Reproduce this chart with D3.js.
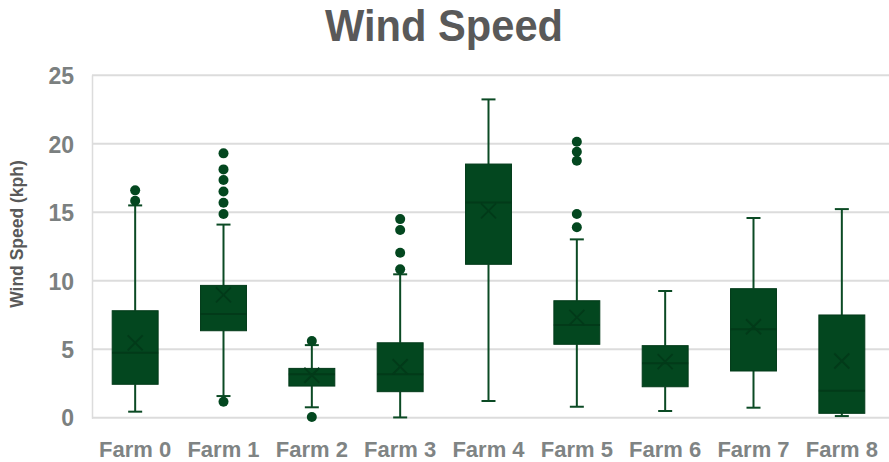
<!DOCTYPE html>
<html>
<head>
<meta charset="utf-8">
<script src="https://cdn.jsdelivr.net/npm/d3@7"></script>
<style>
  html, body { margin: 0; padding: 0; background: #fff; }
  svg { display: block; }
</style>
</head>
<body>
<svg id="chart" width="889" height="462"></svg>
<script>
const categories = ["Farm 0", "Farm 1", "Farm 2", "Farm 3", "Farm 4", "Farm 5", "Farm 6", "Farm 7", "Farm 8"];
const whiskerLow  = [0.44, 1.58, 0.76, 0.02, 1.22, 0.80, 0.49, 0.73, 0.12];
const q1          = [2.44, 6.35, 2.31, 1.90, 11.20, 5.36, 2.26, 3.41, 0.32];
const medians     = [4.74, 7.57, 3.17, 3.17, 15.72, 6.77, 3.97, 6.45, 1.97];
const q3          = [7.81, 9.66, 3.60, 5.47, 18.52, 8.54, 5.26, 9.42, 7.50];
const whiskerHigh = [15.50, 14.10, 5.30, 10.47, 23.24, 13.02, 9.25, 14.58, 15.23];
const means       = [5.47, 8.96, 3.10, 3.72, 15.10, 7.33, 4.09, 6.64, 4.14];
const outliers = [
  [16.60, 15.84],
  [19.30, 18.13, 17.35, 16.52, 15.70, 14.87, 1.17],
  [5.60, 0.05],
  [14.50, 13.70, 12.05, 10.83],
  [],
  [20.15, 19.42, 18.76, 14.87, 13.90],
  [],
  [],
  []
];
const yTicks = [0, 5, 10, 15, 20, 25];
const titleText = "Wind Speed";
const yTitle = "Wind Speed (kph)";

const svg = d3.select("#chart");
const fill = "#03471f", edge = "#023a19", whiskerColor = "#0b4a24";

const x = d3.scaleBand().domain(categories).range([91, 886]).paddingInner(0).paddingOuter(0);
const y = d3.scaleLinear().domain([0, 25]).range([417.7, 75.3]);

// gridlines
svg.append("g").selectAll("line").data(yTicks).join("line")
  .attr("x1", 92).attr("x2", 889)
  .attr("y1", d => y(d)).attr("y2", d => y(d))
  .attr("stroke", "#dcdcdc").attr("stroke-width", 2);
// left plot border
svg.append("line").attr("x1", 92.5).attr("x2", 92.5)
  .attr("y1", y(25)).attr("y2", y(0) + 1)
  .attr("stroke", "#dcdcdc").attr("stroke-width", 1.5);

// y axis
const yAxis = d3.axisLeft(y).tickValues(yTicks).tickSize(0).tickPadding(0);
const gy = svg.append("g").attr("transform", "translate(74,0)").call(yAxis);
gy.select(".domain").remove();
gy.selectAll("text")
  .attr("font-family", "'Liberation Sans', Arial, sans-serif")
  .attr("font-weight", "bold").attr("font-size", 23)
  .attr("fill", "#7b8080").attr("dy", "0.36em").attr("x", 0);

// x axis
const xAxis = d3.axisBottom(x).tickSize(0).tickPadding(0);
const gx = svg.append("g").attr("transform", "translate(0,441)").call(xAxis);
gx.select(".domain").remove();
gx.selectAll("text")
  .attr("font-family", "'Liberation Sans', Arial, sans-serif")
  .attr("font-weight", "bold").attr("font-size", 22)
  .attr("fill", "#7f8484").attr("dy", "0.72em").attr("y", 0);

const bw = x.bandwidth() * 0.52;
const capW = 14;
const data = categories.map((c, i) => ({
  c, lo: whiskerLow[i], q1: q1[i], med: medians[i], q3: q3[i], hi: whiskerHigh[i], mean: means[i], out: outliers[i]
}));
const cx = d => x(d.c) + x.bandwidth() / 2;

const g = svg.append("g");
const box = g.selectAll("g.box").data(data).join("g").attr("class", "box");

// whiskers
box.append("line").attr("x1", cx).attr("x2", cx)
  .attr("y1", d => y(d.hi)).attr("y2", d => y(d.q3))
  .attr("stroke", whiskerColor).attr("stroke-width", 2);
box.append("line").attr("x1", cx).attr("x2", cx)
  .attr("y1", d => y(d.q1)).attr("y2", d => y(d.lo))
  .attr("stroke", whiskerColor).attr("stroke-width", 2);
// caps
box.append("line").attr("x1", d => cx(d) - capW / 2).attr("x2", d => cx(d) + capW / 2)
  .attr("y1", d => y(d.hi)).attr("y2", d => y(d.hi))
  .attr("stroke", whiskerColor).attr("stroke-width", 2);
box.append("line").attr("x1", d => cx(d) - capW / 2).attr("x2", d => cx(d) + capW / 2)
  .attr("y1", d => y(d.lo)).attr("y2", d => y(d.lo))
  .attr("stroke", whiskerColor).attr("stroke-width", 2);
// box
box.append("rect")
  .attr("x", d => cx(d) - bw / 2).attr("width", bw)
  .attr("y", d => y(d.q3)).attr("height", d => y(d.q1) - y(d.q3))
  .attr("fill", fill).attr("stroke", edge).attr("stroke-width", 1);
// median
box.append("line").attr("x1", d => cx(d) - bw / 2).attr("x2", d => cx(d) + bw / 2)
  .attr("y1", d => y(d.med)).attr("y2", d => y(d.med))
  .attr("stroke", edge).attr("stroke-width", 2);
// mean X
const xs = 7.5;
box.append("path")
  .attr("d", d => {
    const X = cx(d), Y = y(d.mean);
    return `M${X - xs},${Y - xs}L${X + xs},${Y + xs}M${X - xs},${Y + xs}L${X + xs},${Y - xs}`;
  })
  .attr("stroke", edge).attr("stroke-width", 1.8).attr("fill", "none");
// outliers
box.selectAll("circle").data(d => d.out.map(v => ({ v, d }))).join("circle")
  .attr("cx", o => cx(o.d)).attr("cy", o => y(o.v)).attr("r", 5)
  .attr("fill", fill);

// title
svg.append("text").attr("x", 444).attr("y", 41).attr("text-anchor", "middle")
  .attr("font-family", "'Liberation Sans Narrow', 'Liberation Sans', Arial, sans-serif").attr("font-weight", "bold")
  .attr("font-size", 44).attr("fill", "#595959")
  .attr("textLength", 238).attr("lengthAdjust", "spacingAndGlyphs")
  .text(titleText);

// y title
svg.append("text").attr("transform", "translate(23,234) rotate(-90)")
  .attr("text-anchor", "middle")
  .attr("font-family", "'Liberation Sans', Arial, sans-serif").attr("font-weight", "bold")
  .attr("font-size", 17.5).attr("fill", "#595959")
  .text(yTitle);
</script>
</body>
</html>
